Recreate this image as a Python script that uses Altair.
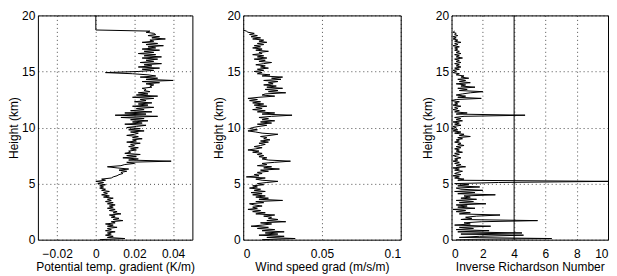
import altair as alt
import pandas as pd

# Potential temperature gradient (K/m), every 0.1 km from 0.0 to 18.7 km, then top value at 20 km
theta_grad = [
    0.002, 0.015, 0.006, 0.009, 0.005, 0.008, 0.006, 0.010, 0.005, 0.008,
    0.006, 0.011, 0.006, 0.009, 0.005, 0.010, 0.008, 0.014, 0.009, 0.012,
    0.008, 0.010, 0.007, 0.013, 0.009, 0.011, 0.007, 0.010, 0.006, 0.009,
    0.007, 0.010, 0.006, 0.009, 0.005, 0.008, 0.006, 0.009, 0.004, 0.007,
    0.003, 0.006, 0.004, 0.007, 0.003, 0.005, 0.002, 0.004, 0.002, 0.005,
    0.001, 0.004, 0.000, 0.005, 0.003, 0.008, 0.009, 0.011, 0.012, 0.014,
    0.013, 0.016, 0.012, 0.017, 0.011, 0.006, 0.013, 0.015, 0.020, 0.016,
    0.039, 0.017, 0.022, 0.014, 0.021, 0.016, 0.023, 0.015, 0.018, 0.017,
    0.021, 0.018, 0.022, 0.017, 0.020, 0.018, 0.023, 0.016, 0.021, 0.019,
    0.024, 0.019, 0.022, 0.016, 0.020, 0.022, 0.018, 0.025, 0.017, 0.023,
    0.016, 0.021, 0.026, 0.015, 0.024, 0.019, 0.027, 0.018, 0.025, 0.013,
    0.032, 0.010, 0.026, 0.015, 0.029, 0.018, 0.025, 0.021, 0.030, 0.019,
    0.027, 0.022, 0.029, 0.020, 0.026, 0.023, 0.030, 0.019, 0.032, 0.021,
    0.027, 0.022, 0.028, 0.025, 0.026, 0.024, 0.029, 0.028, 0.030, 0.026,
    0.033, 0.024, 0.040, 0.026, 0.032, 0.023, 0.031, 0.027, 0.019, 0.005,
    0.022, 0.030, 0.024, 0.033, 0.022, 0.029, 0.025, 0.034, 0.023, 0.030,
    0.026, 0.032, 0.024, 0.034, 0.025, 0.031, 0.022, 0.030, 0.025, 0.033,
    0.024, 0.031, 0.027, 0.035, 0.026, 0.032, 0.024, 0.030, 0.028, 0.036,
    0.029, 0.033, 0.027, 0.031, 0.030, 0.026, 0.028, 0.000,
]
theta_top_height = [20.0]
theta_top_value = [0.000]

# Wind speed gradient (m/s/m), every 0.1 km from 0.0 to 18.7 km
wind_grad = [
    0.012, 0.033, 0.015, 0.026, 0.010, 0.022, 0.014, 0.026, 0.012, 0.020,
    0.009, 0.016, 0.005, 0.012, 0.018, 0.011, 0.027, 0.015, 0.022, 0.016,
    0.018, 0.013, 0.020, 0.008, 0.014, 0.006, 0.011, 0.003, 0.009, 0.006,
    0.012, 0.007, 0.004, 0.013, 0.008, 0.025, 0.010, 0.016, 0.008, 0.014,
    0.006, 0.012, 0.005, 0.014, 0.007, 0.011, 0.004, 0.009, 0.006, 0.013,
    0.009, 0.015, 0.022, 0.012, 0.008, 0.014, 0.002, 0.010, 0.007, 0.012,
    0.009, 0.016, 0.011, 0.023, 0.013, 0.018, 0.009, 0.015, 0.012, 0.020,
    0.030, 0.016, 0.012, 0.015, 0.010, 0.013, 0.009, 0.012, 0.006, 0.010,
    0.003, 0.008, 0.012, 0.007, 0.011, 0.014, 0.010, 0.016, 0.011, 0.017,
    0.013, 0.015, 0.011, 0.017, 0.022, 0.012, 0.008, 0.003, 0.009, 0.004,
    0.006, 0.010, 0.015, 0.009, 0.018, 0.011, 0.020, 0.012, 0.016, 0.010,
    0.018, 0.031, 0.012, 0.020, 0.009, 0.014, 0.006, 0.012, 0.008, 0.015,
    0.007, 0.013, 0.006, 0.011, 0.004, 0.009, 0.003, 0.010, 0.020, 0.012,
    0.014, 0.027, 0.016, 0.022, 0.014, 0.025, 0.015, 0.021, 0.013, 0.019,
    0.016, 0.022, 0.013, 0.024, 0.018, 0.025, 0.012, 0.017, 0.009, 0.012,
    0.007, 0.013, 0.009, 0.016, 0.011, 0.014, 0.008, 0.013, 0.018, 0.010,
    0.014, 0.007, 0.015, 0.009, 0.013, 0.006, 0.012, 0.010, 0.016, 0.008,
    0.012, 0.006, 0.011, 0.007, 0.013, 0.009, 0.015, 0.010, 0.013, 0.006,
    0.011, 0.005, 0.009, 0.004, 0.007, 0.003, 0.002, 0.000,
]

# Inverse Richardson number, every 0.1 km from 0.0 to 18.6 km
inv_ri = [
    0.3, 6.4, 0.5, 1.8, 4.6, 0.6, 4.5, 0.4, 2.4, 0.3,
    1.4, 0.5, 2.5, 0.2, 1.2, 0.8, 1.9, 5.5, 0.6, 1.3,
    0.9, 1.6, 3.1, 0.5, 1.2, 0.3, 0.9, 0.1, 1.5, 0.4,
    1.0, 0.3, 2.2, 0.5, 1.4, 0.3, 1.6, 0.6, 1.2, 0.8,
    2.8, 0.4, 1.5, 0.2, 2.0, 0.6, 0.3, 1.8, 0.4, 1.1,
    0.2, 3.0, 10.0, 0.4, 0.8, 0.2, 0.5, 0.1, 0.6, 0.2,
    0.4, 0.7, 0.2, 0.5, 0.1, 0.9, 0.3, 0.6, 0.2, 0.5,
    0.1, 0.4, 0.2, 0.6, 0.3, 0.1, 0.5, 0.2, 0.7, 0.3,
    0.5, 0.2, 0.6, 0.3, 0.8, 0.4, 0.6, 0.2, 0.5, 0.3,
    0.7, 0.4, 1.2, 0.5, 0.8, 0.2, 0.6, 0.1, 0.4, 0.0,
    0.3, 0.1, 0.6, 0.2, 0.5, 0.1, 0.7, 0.3, 0.6, 0.2,
    0.8, 4.7, 0.3, 1.0, 0.2, 0.5, 0.1, 0.4, 0.2, 0.6,
    0.1, 0.4, 0.2, 0.5, 0.0, 0.3, 1.9, 0.4, 0.9, 0.3,
    0.7, 1.2, 2.0, 0.5, 1.0, 0.4, 1.5, 0.6, 0.9, 0.3,
    1.2, 0.5, 0.9, 0.4, 1.1, 0.6, 0.8, 0.3, 0.5, 0.1,
    0.3, 0.1, 0.5, 0.2, 0.6, 0.3, 0.5, 0.2, 0.6, 0.3,
    0.5, 0.2, 0.7, 0.3, 0.5, 0.2, 0.6, 0.3, 0.5, 0.2,
    0.4, 0.2, 0.5, 0.1, 0.4, 0.2, 0.6, 0.2, 0.4, 0.1,
    0.3, 0.1, 0.4, 0.2, 0.3, 0.1, 0.2,
]

critical_inv_ri = [4.0]

x1_ticks = [-0.02, 0, 0.02, 0.04]
x2_ticks = [0, 0.05, 0.1]
x3_ticks = [0, 2, 4, 6, 8, 10]
y_ticks = [0, 5, 10, 15, 20]

# sampling grid of the sounding (index -> km)
h1 = [round(0.1 * i, 1) for i in range(len(theta_grad))] + theta_top_height
df1 = pd.DataFrame({"h": h1, "v": theta_grad + theta_top_value})
df2 = pd.DataFrame({"h": [round(0.1 * i, 1) for i in range(len(wind_grad))], "v": wind_grad})
df3 = pd.DataFrame({"h": [round(0.1 * i, 1) for i in range(len(inv_ri))], "v": inv_ri})
df3r = pd.DataFrame({"v": critical_inv_ri})

W1, W2, W3, H = 155, 158, 157, 225

yenc = alt.Y("h:Q", scale=alt.Scale(domain=[0, 20], nice=False),
             axis=alt.Axis(values=y_ticks, title="Height (km)"))

line_kw = dict(color="black", strokeWidth=1)

x1 = alt.X("v:Q", scale=alt.Scale(domain=[-0.03, 0.05], nice=False),
           axis=alt.Axis(values=x1_ticks, format=".2~f", title="Potential temp. gradient (K/m)"))
x2 = alt.X("v:Q", scale=alt.Scale(domain=[0, 0.1], nice=False),
           axis=alt.Axis(values=x2_ticks, format=".2~f", title="Wind speed grad (m/s/m)"))
x3 = alt.X("v:Q", scale=alt.Scale(domain=[0, 10], nice=False),
           axis=alt.Axis(values=x3_ticks, format="d", title="Inverse Richardson Number"))

p1 = alt.Chart(df1).mark_line(**line_kw).encode(x=x1, y=yenc, order="h:Q").properties(width=W1, height=H)
p2 = alt.Chart(df2).mark_line(**line_kw).encode(x=x2, y=yenc, order="h:Q").properties(width=W2, height=H)

l3 = alt.Chart(df3).mark_line(**line_kw, clip=True).encode(x=x3, y=yenc, order="h:Q")
r3 = alt.Chart(df3r).mark_rule(color="black", strokeWidth=1).encode(x=x3)
p3 = alt.layer(l3, r3).properties(width=W3, height=H)

chart = alt.hconcat(p1, p2, p3, spacing=51, bounds="flush").properties(
    padding={"left": -1, "top": 0, "right": 0, "bottom": 0}
).configure_view(
    stroke="black", strokeWidth=1
).configure_axis(
    grid=True, gridDash=[1, 3], gridColor="#000000", gridOpacity=0.7, gridWidth=1,
    domain=False, ticks=False, tickSize=0, labelOverlap=False,
    labelFont="Liberation Sans", labelFontSize=12, labelColor="black",
    titleFont="Liberation Sans", titleFontSize=12, titleFontWeight="normal", titleColor="black",
).configure_axisY(
    labelPadding=3, titlePadding=1,
).configure_axisX(
    labelPadding=9, titlePadding=2,
)

chart.save("out.html", embed_options={"renderer": "svg", "actions": False})
